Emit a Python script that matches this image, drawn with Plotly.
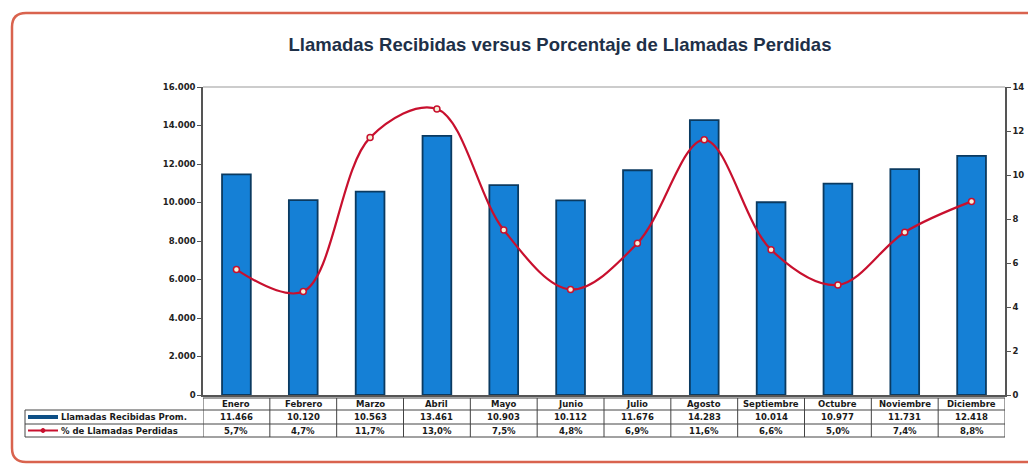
import plotly.graph_objects as go

meses = ["Enero", "Febrero", "Marzo", "Abril", "Mayo", "Junio", "Julio",
         "Agosto", "Septiembre", "Octubre", "Noviembre", "Diciembre"]
llamadas = [11466, 10120, 10563, 13461, 10903, 10112, 11676, 14283, 10014, 10977, 11731, 12418]
perdidas = [5.7, 4.7, 11.7, 13.0, 7.5, 4.8, 6.9, 11.6, 6.6, 5.0, 7.4, 8.8]
left_ticks = [0, 2000, 4000, 6000, 8000, 10000, 12000, 14000, 16000]
right_ticks = [0, 2, 4, 6, 8, 10, 12, 14]

OFF = 8  # page body margin
PAGE_W, PAGE_H = 1036, 466
W, H = PAGE_W - OFF, PAGE_H - OFF
L, R, T, B = 203, 1005, 87, 395   # plot area in page pixels
PW, PH = R - L, B - T


def px(x):
    return (x - L) / PW


def py(y):
    return (B - y) / PH


fig = go.Figure()
fig.add_trace(go.Bar(
    x=meses, y=llamadas, name="Llamadas Recibidas Prom.", width=0.43,
    marker=dict(color="#1580d6", line=dict(color="#0b3a60", width=1.8)),
    yaxis="y", showlegend=False))
fig.add_trace(go.Scatter(
    x=meses, y=perdidas, name="% de Llamadas Perdidas", yaxis="y2",
    mode="lines+markers", line=dict(color="#c8102e", width=2.2, shape="spline", smoothing=1.0),
    marker=dict(size=6, color="#f4f0d8", line=dict(color="#c8102e", width=1.5)),
    showlegend=False))

FONT = "DejaVu Sans, Verdana, sans-serif"
tick_font = dict(family=FONT, size=8.5, color="#222222", weight="bold")
fig.update_layout(
    width=W, height=H, separators=",.",
    margin=dict(l=L - OFF, r=PAGE_W - R, t=T - OFF, b=PAGE_H - B, autoexpand=False),
    paper_bgcolor="white", plot_bgcolor="white",
    title=dict(text="<b>Llamadas Recibidas versus Porcentaje de Llamadas Perdidas</b>",
               x=(560 - OFF) / W, xanchor="center", y=1 - (45 - OFF) / H, yanchor="middle",
               font=dict(family="Liberation Sans, Arial", size=18.5, color="#1e3048")),
    xaxis=dict(range=[-0.5, 11.5], showticklabels=False, showline=True, linecolor="#555555",
               linewidth=1.5, ticks="", showgrid=False, zeroline=False),
    yaxis=dict(range=[0, 16000], tickvals=left_ticks, tickformat=",d", showgrid=False,
               showline=True, linecolor="#555555", linewidth=1.5, ticks="outside",
               ticklen=4, tickcolor="#555555", tickfont=tick_font, zeroline=False),
    yaxis2=dict(range=[0, 14], tickvals=right_ticks, ticksuffix="%", overlaying="y",
                side="right", showgrid=False, showline=True, linecolor="#555555",
                linewidth=1.5, ticks="outside", ticklen=4, tickcolor="#555555",
                tickfont=tick_font, zeroline=False),
)

shapes = []
# plot area top border
shapes.append(dict(type="line", xref="paper", yref="paper", x0=0, x1=1, y0=1, y1=1,
                   line=dict(color="#9a9a9a", width=1.2)))
# table grid
rows_y = [398, 410, 424, 437]
gridc = "#444444"
shapes.append(dict(type="line", xref="paper", yref="paper", x0=0, x1=1,
                   y0=py(rows_y[0]), y1=py(rows_y[0]), line=dict(color=gridc, width=1)))
for ry in rows_y[1:]:
    shapes.append(dict(type="line", xref="paper", yref="paper", x0=px(25), x1=1,
                       y0=py(ry), y1=py(ry), line=dict(color=gridc, width=1)))
for i in range(len(meses) + 1):
    shapes.append(dict(type="line", xref="x", yref="paper", x0=i - 0.5, x1=i - 0.5,
                       y0=py(rows_y[0]), y1=py(rows_y[3]), line=dict(color=gridc, width=1)))
shapes.append(dict(type="line", xref="paper", yref="paper", x0=px(25), x1=px(25),
                   y0=py(rows_y[1]), y1=py(rows_y[3]), line=dict(color=gridc, width=1)))
# legend keys
shapes.append(dict(type="rect", xref="paper", yref="paper", x0=px(28), x1=px(58),
                   y0=py(419), y1=py(415), fillcolor="#0d4f86", line=dict(width=0)))
shapes.append(dict(type="line", xref="paper", yref="paper", x0=px(28), x1=px(58),
                   y0=py(430.5), y1=py(430.5), line=dict(color="#c8102e", width=2)))
shapes.append(dict(type="circle", xref="paper", yref="paper", x0=px(41), x1=px(45),
                   y0=py(432.5), y1=py(428.5), fillcolor="#c8102e", line=dict(color="#c8102e", width=1)))
# outer rounded red frame
x0, x1, y0, y1 = px(12), px(1045), py(462), py(13)
rx, ry = 14 / PW, 14 / PH
path = (f"M {x0+rx} {y1} L {x1} {y1} L {x1} {y0} L {x0+rx} {y0} "
        f"Q {x0} {y0} {x0} {y0+ry} L {x0} {y1-ry} Q {x0} {y1} {x0+rx} {y1} Z")
shapes.append(dict(type="path", xref="paper", yref="paper", path=path,
                   line=dict(color="#d9634e", width=2.5)))
fig.update_layout(shapes=shapes)

cell_font = dict(family=FONT, size=8.5, color="#1a1a1a")
ann = []
for i, m in enumerate(meses):
    ann.append(dict(x=m, xref="x", y=py(404), yref="paper", text=f"<b>{m}</b>",
                    showarrow=False, font=cell_font, xanchor="center", yanchor="middle"))
    ann.append(dict(x=m, xref="x", y=py(417), yref="paper",
                    text="<b>" + f"{llamadas[i]:,}".replace(",", ".") + "</b>",
                    showarrow=False, font=cell_font, xanchor="center", yanchor="middle"))
    ann.append(dict(x=m, xref="x", y=py(430.5), yref="paper",
                    text="<b>" + f"{perdidas[i]:.1f}".replace(".", ",") + "%</b>",
                    showarrow=False, font=cell_font, xanchor="center", yanchor="middle"))
ann.append(dict(x=px(59), xref="paper", y=py(417), yref="paper",
                text="<b>Llamadas Recibidas Prom.</b>", showarrow=False, font=cell_font,
                xanchor="left", yanchor="middle"))
ann.append(dict(x=px(59), xref="paper", y=py(430.5), yref="paper",
                text="<b>% de Llamadas Perdidas</b>", showarrow=False, font=cell_font,
                xanchor="left", yanchor="middle"))
fig.update_layout(annotations=ann)

fig.write_html("out.html")
